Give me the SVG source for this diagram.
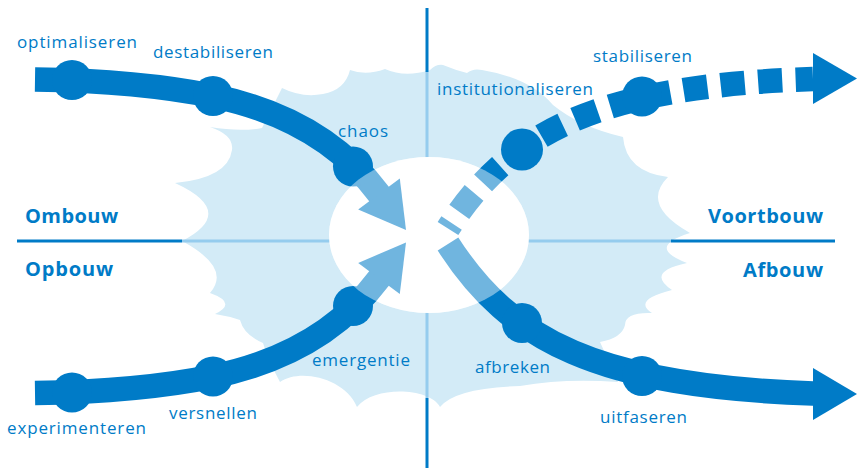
<svg xmlns="http://www.w3.org/2000/svg" width="859" height="468" viewBox="0 0 859 468">
<defs>
<style>
.lbl{font-family:"Open Sans","Noto Sans",sans-serif;font-size:17px;fill:#007BC7}
.phase{font-family:"Open Sans","Noto Sans",sans-serif;font-size:20px;font-weight:700;fill:#007BC7}
.shaft{fill:none;stroke:#007BC7;stroke-width:24.5;stroke-linecap:butt}
.dashed{stroke-dasharray:24 13.5;stroke-dashoffset:17.5}
.head{fill:#007BC7}
.node{fill:#007BC7}
.axd{stroke:#007BC7;stroke-width:3;fill:none}
.axl{stroke:#95CCEE;stroke-width:3;fill:none}
</style>
</defs>
<rect width="859" height="468" fill="#ffffff"/>
<path id="cloud" fill="#D3EBF7" d="M282,88 Q302,98 323,94 Q345,90 350,70 Q366,76 385,69 Q405,78 430,70 Q436,64 443,65 Q455,70 467,73 Q473,68 482,70 Q530,78 553,105 Q580,127 623,137 Q626,172 668,177 Q640,205 690,233 Q645,247 687,263 Q645,272 672,290 Q632,300 652,313 Q625,312 625,325 Q622,338 600,342 L618,382 Q565,378 520,386 Q455,388 440,407 C430,388 375,385 357,407 C345,378 300,368 280,382 Q268,360 263,343 Q244,335 240,320 Q228,316 215,314 Q238,303 210,293 Q232,268 182,241 Q238,212 175,183 Q228,178 232,150 Q234,135 210,127 Q240,132 262,128 L282,88 Z"/>
<g id="axes">
<line class="axl" x1="182" y1="241" x2="671" y2="241"/>
<line class="axl" x1="427" y1="72" x2="427" y2="398"/>
<line class="axd" x1="17" y1="241" x2="182" y2="241"/>
<line class="axd" x1="671" y1="241" x2="835" y2="241"/>
<line class="axd" x1="427" y1="8" x2="427" y2="72"/>
<line class="axd" x1="427" y1="398" x2="427" y2="468"/>
</g>
<ellipse id="core" cx="429" cy="235" rx="100" ry="78" fill="#ffffff"/>
<g id="connectors">
<g id="arrow-ombouw">
<path class="shaft" d="M35,79.5 Q140,81 213,96 Q322.4,118.5 379,194 L385,202"/>
<polygon class="head" points="399.8,178.4 406,230 358.2,209.6"/>
</g>
<g id="arrow-opbouw">
<path class="shaft" d="M35,393 Q140,391.5 213,376.5 Q322.4,354 379,278.5 L385,270.5"/>
<polygon class="head" points="399.8,294.1 406,242.5 358.2,262.9"/>
</g>
<g id="arrow-voortbouw">
<path class="shaft dashed" pathLength="412" d="M448,228.5 C510,131.9 598,86 813,79"/>
<polygon class="head" points="813,53 857,78.5 813,104"/>
</g>
<g id="arrow-afbouw">
<path class="shaft" d="M448,244 C510,340.6 598,386.5 813,393.5 L823,393.7"/>
<polygon class="head" points="813,368 857,394 813,420"/>
</g>
</g>
<g id="node-optimaliseren"><circle class="node" cx="72" cy="80" r="20"/><text class="lbl" x="17" y="48" textLength="120">optimaliseren</text></g>
<g id="node-destabiliseren"><circle class="node" cx="213" cy="96" r="20"/><text class="lbl" x="153" y="58" textLength="120">destabiliseren</text></g>
<g id="node-chaos"><circle class="node" cx="353" cy="166.5" r="20"/><text class="lbl" x="338" y="137" textLength="50">chaos</text></g>
<g id="node-experimenteren"><circle class="node" cx="72" cy="392.5" r="20"/><text class="lbl" x="7" y="434" textLength="139">experimenteren</text></g>
<g id="node-versnellen"><circle class="node" cx="213" cy="376.5" r="20"/><text class="lbl" x="169" y="419" textLength="88">versnellen</text></g>
<g id="node-emergentie"><circle class="node" cx="353" cy="306" r="20"/><text class="lbl" x="312" y="366" textLength="98">emergentie</text></g>
<g id="node-institutionaliseren"><circle class="node" cx="522" cy="149.5" r="21"/><text class="lbl" x="437" y="95" textLength="156">institutionaliseren</text></g>
<g id="node-stabiliseren"><circle class="node" cx="642" cy="96.5" r="20"/><text class="lbl" x="593" y="62" textLength="99">stabiliseren</text></g>
<g id="node-afbreken"><circle class="node" cx="522" cy="323" r="20"/><text class="lbl" x="475" y="373" textLength="75">afbreken</text></g>
<g id="node-uitfaseren"><circle class="node" cx="642" cy="376" r="20"/><text class="lbl" x="600" y="423" textLength="87">uitfaseren</text></g>
<ellipse id="core-veil" cx="429" cy="235" rx="100" ry="78" fill="#ffffff" opacity="0.44"/>
<g id="phase-ombouw"><text class="phase" x="25" y="223" textLength="93">Ombouw</text></g>
<g id="phase-opbouw"><text class="phase" x="25" y="276" textLength="88">Opbouw</text></g>
<g id="phase-voortbouw"><text class="phase" x="823" y="223" text-anchor="end" textLength="115">Voortbouw</text></g>
<g id="phase-afbouw"><text class="phase" x="823" y="277" text-anchor="end" textLength="80">Afbouw</text></g>
</svg>
